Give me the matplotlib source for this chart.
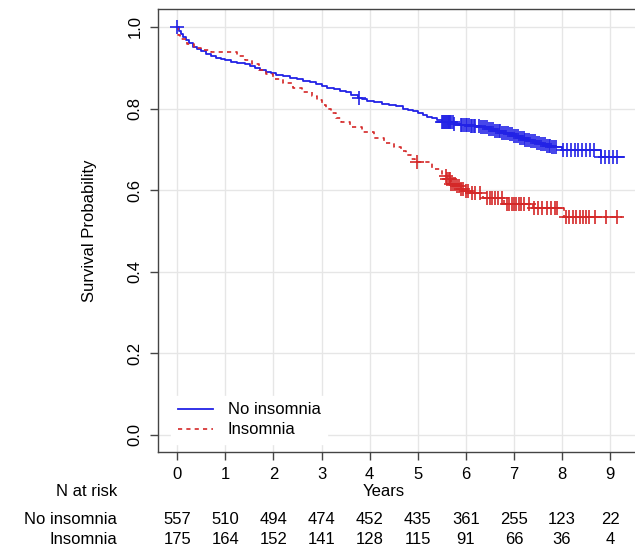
import numpy as np
import matplotlib
matplotlib.use("Agg")
import matplotlib.pyplot as plt
from matplotlib.transforms import blended_transform_factory

plt.rcParams["font.family"] = ["Liberation Sans", "DejaVu Sans"]

# Kaplan-Meier steps
no_ins_t = [0, 0.03, 0.08, 0.12, 0.18, 0.25, 0.33, 0.42, 0.5, 0.6, 0.7, 0.8, 0.9, 1.0,
            1.12, 1.25, 1.4, 1.52, 1.62, 1.72, 1.85, 1.95, 2.05, 2.2, 2.35, 2.5, 2.62,
            2.75, 2.88, 3.0, 3.12, 3.25, 3.38, 3.5, 3.62, 3.75, 3.85, 3.95, 4.1, 4.25,
            4.4, 4.55, 4.7, 4.8, 4.9, 5.0, 5.1, 5.2, 5.3, 5.4, 5.5, 5.75, 5.9, 6.1, 6.3,
            6.45, 6.6, 6.75, 6.9, 7.0, 7.1, 7.22, 7.35, 7.45, 7.55, 7.65, 7.8, 8.0, 8.8,
            9.28]
no_ins_s = [1.0, 0.99, 0.982, 0.975, 0.967, 0.96, 0.952, 0.945, 0.94, 0.934, 0.929, 0.925,
            0.921, 0.918, 0.915, 0.912, 0.908, 0.905, 0.9, 0.895, 0.89, 0.886, 0.882,
            0.879, 0.876, 0.872, 0.868, 0.864, 0.859, 0.855, 0.851, 0.848, 0.844, 0.84,
            0.834, 0.827, 0.823, 0.819, 0.815, 0.811, 0.808, 0.805, 0.8, 0.797, 0.793,
            0.789, 0.785, 0.78, 0.776, 0.772, 0.766, 0.763, 0.76, 0.757, 0.755, 0.75,
            0.745, 0.741, 0.737, 0.732, 0.728, 0.724, 0.72, 0.716, 0.712, 0.709, 0.706,
            0.699, 0.682, 0.682]
ins_t = [0, 0.02, 0.06, 0.2, 0.35, 0.5, 0.7, 1.25, 1.4, 1.55, 1.7, 1.85, 2.0, 2.2, 2.4,
         2.6, 2.8, 2.9, 3.0, 3.1, 3.2, 3.3, 3.4, 3.6, 3.85, 4.1, 4.3, 4.5, 4.65, 4.75,
         4.85, 4.95, 5.3, 5.5, 5.6, 5.7, 5.8, 5.9, 6.0, 6.1, 6.35, 6.8, 7.4, 8.05, 9.25]
ins_s = [1.0, 0.98, 0.97, 0.958, 0.948, 0.943, 0.939, 0.93, 0.92, 0.91, 0.895, 0.885,
         0.872, 0.862, 0.85, 0.84, 0.83, 0.82, 0.808, 0.8, 0.79, 0.778, 0.768, 0.755,
         0.743, 0.728, 0.716, 0.705, 0.695, 0.685, 0.677, 0.67, 0.652, 0.635, 0.627,
         0.615, 0.61, 0.603, 0.598, 0.592, 0.58, 0.565, 0.556, 0.535, 0.535]

# censoring times
no_ins_cens = [0.0, 3.77, 5.5, 5.52, 5.54, 5.56, 5.58, 5.6, 5.62, 5.64, 5.66, 5.68, 5.7,
               5.73, 5.76, 5.9, 5.93, 5.96, 6.0, 6.03, 6.06, 6.1, 6.13, 6.16, 6.2, 6.28,
               6.32, 6.36, 6.4, 6.44, 6.48, 6.52, 6.56, 6.6, 6.64, 6.68, 6.72, 6.76, 6.8,
               6.84, 6.88, 6.92, 6.96, 7.0, 7.04, 7.08, 7.12, 7.16, 7.2, 7.24, 7.28, 7.32,
               7.36, 7.4, 7.44, 7.48, 7.52, 7.56, 7.6, 7.64, 7.68, 7.72, 7.76, 7.8, 7.84,
               7.88, 8.02, 8.1, 8.18, 8.26, 8.34, 8.42, 8.5, 8.58, 8.66, 8.82, 8.9, 8.97,
               9.05, 9.15]
ins_cens = [4.98, 5.58, 5.61, 5.64, 5.67, 5.7, 5.74, 5.78, 5.82, 5.86, 5.9, 5.95, 6.0,
            6.05, 6.12, 6.2, 6.3, 6.45, 6.5, 6.55, 6.6, 6.66, 6.75, 6.85, 6.9, 6.95, 7.0,
            7.05, 7.1, 7.15, 7.2, 7.32, 7.42, 7.5, 7.58, 7.68, 7.78, 7.85, 7.9, 8.08,
            8.15, 8.22, 8.3, 8.37, 8.44, 8.5, 8.57, 8.68, 8.92, 9.15]

years = [0, 1, 2, 3, 4, 5, 6, 7, 8, 9]
risk_no_ins = [557, 510, 494, 474, 452, 435, 361, 255, 123, 22]
risk_ins = [175, 164, 152, 141, 128, 115, 91, 66, 36, 4]

blue = "#2222e6"
red = "#d42828"
fs = 12


def surv_at(times, t, s):
    idx = np.searchsorted(t, times, side="right") - 1
    return np.array(s)[idx]


fig = plt.figure(figsize=(6.35, 5.47), dpi=100)
ax = fig.add_axes([158 / 635, 95 / 547, 481 / 635, 443 / 547])

ax.step(no_ins_t, no_ins_s, where="post", color=blue, lw=1.3, label="No insomnia")
ax.step(ins_t, ins_s, where="post", color=red, lw=1.2, ls=(0, (2.5, 2.5)), label="Insomnia")
ax.plot(no_ins_cens, surv_at(no_ins_cens, no_ins_t, no_ins_s), ls="none", marker="+",
        ms=10, mew=1.2, color=blue)
ax.plot(ins_cens, surv_at(ins_cens, ins_t, ins_s), ls="none", marker="+",
        ms=10, mew=1.2, color=red)

ax.set_xlim(-0.4, 9.6)
ax.set_ylim(-0.042, 1.044)
ax.set_xticks(years)
ax.set_yticks([0, 0.2, 0.4, 0.6, 0.8, 1.0])
ax.set_yticklabels(["0.0", "0.2", "0.4", "0.6", "0.8", "1.0"], rotation=90, va="center")
ax.grid(True, color="#e6e6e6", lw=1.0)
ax.set_axisbelow(True)
for sp in ax.spines.values():
    sp.set_color("#444444")
    sp.set_linewidth(1.0)
ax.tick_params(length=6, width=1.0, color="#444444", labelsize=fs, pad=5)
ax.set_ylabel("Survival Probability", fontsize=fs, labelpad=22)

leg = ax.legend(loc="lower left", bbox_to_anchor=(0.027, 0.018), borderaxespad=0,
                fontsize=fs, frameon=True, fancybox=False, handlelength=2.1,
                handletextpad=0.9, labelspacing=0.3, borderpad=0.4)
leg.get_frame().set_edgecolor("white")
leg.get_frame().set_facecolor("white")
leg.get_frame().set_alpha(1)

tr = blended_transform_factory(ax.transData, fig.transFigure)
ax.text(4.3, 1 - 491 / 547, "Years", transform=tr, ha="center", va="center", fontsize=fs)
fig.text(117 / 635, 1 - 491 / 547, "N at risk", ha="right", va="center", fontsize=fs)
fig.text(117 / 635, 1 - 520 / 547, "No insomnia", ha="right", va="center", fontsize=fs)
fig.text(117 / 635, 1 - 540 / 547, "Insomnia", ha="right", va="center", fontsize=fs)
for x, a, b in zip(years, risk_no_ins, risk_ins):
    ax.text(x, 1 - 520 / 547, str(a), transform=tr, ha="center", va="center", fontsize=fs)
    ax.text(x, 1 - 540 / 547, str(b), transform=tr, ha="center", va="center", fontsize=fs)

fig.savefig("out.png", dpi=100)
